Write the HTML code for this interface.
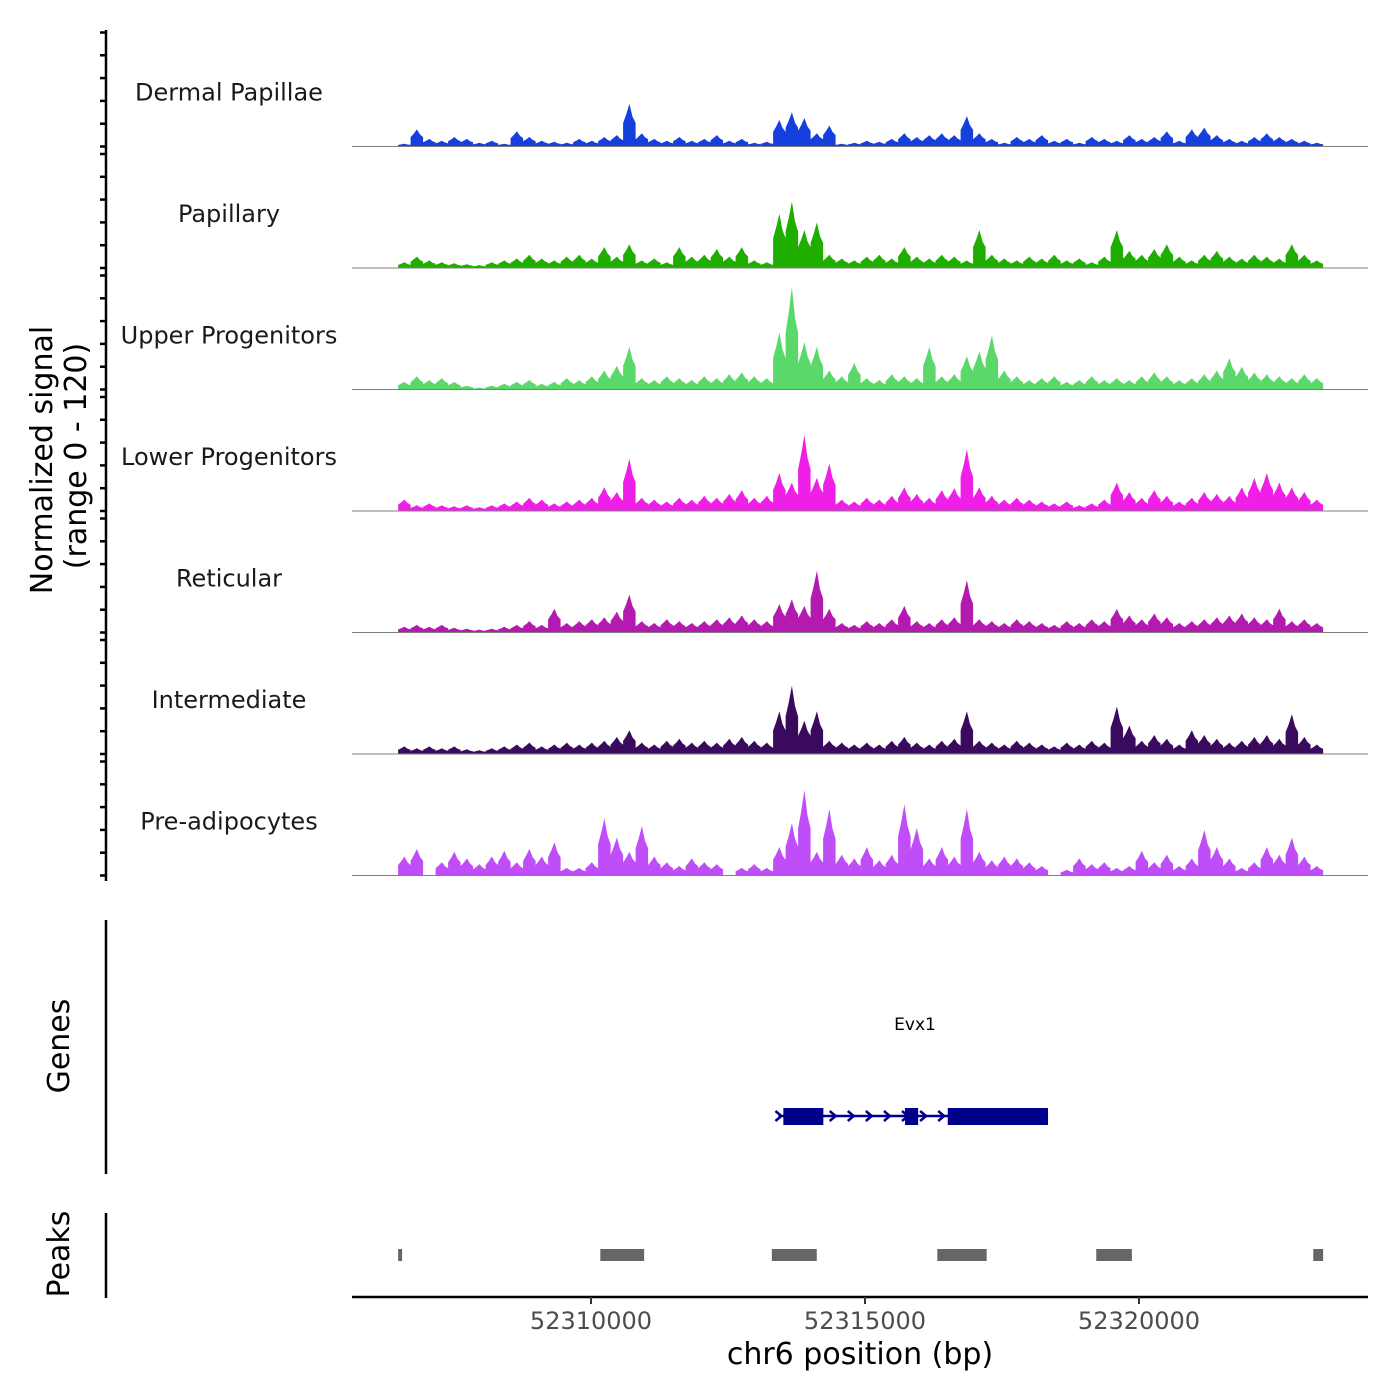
<!DOCTYPE html>
<html><head><meta charset="utf-8"><style>
html,body{margin:0;padding:0;background:#fff}
svg{display:block;font-family:"DejaVu Sans","Liberation Sans",sans-serif}
</style></head><body>
<svg id="chart" width="1400" height="1400" viewBox="0 0 1400 1400" xmlns="http://www.w3.org/2000/svg">
<g id="tracks"></g>
<g id="leftaxis"></g>
<text transform="translate(52,460) rotate(-90)" text-anchor="middle" font-size="30" fill="#000">Normalized signal</text>
<text transform="translate(86,456) rotate(-90)" text-anchor="middle" font-size="30" fill="#000">(range 0 - 120)</text>
<line x1="106" y1="920" x2="106" y2="1174" stroke="#000" stroke-width="2.5"/>
<text transform="translate(69,1046) rotate(-90)" text-anchor="middle" font-size="30" fill="#000">Genes</text>
<text x="915" y="1030" text-anchor="middle" font-size="17" fill="#000">Evx1</text>
<g id="gene"></g>
<line x1="106" y1="1213" x2="106" y2="1298" stroke="#000" stroke-width="2.5"/>
<text transform="translate(69,1254) rotate(-90)" text-anchor="middle" font-size="30" fill="#000">Peaks</text>
<g id="peaks"></g>
<line x1="352" y1="1297" x2="1368" y2="1297" stroke="#000" stroke-width="2.5"/>
<g id="xaxis"></g>
<text x="860" y="1364" text-anchor="middle" font-size="30" fill="#000">chr6 position (bp)</text>
</svg>
<script>
const trackNames=["Dermal Papillae","Papillary","Upper Progenitors","Lower Progenitors","Reticular","Intermediate","Pre-adipocytes"];
const trackColors=["#1640dd","#1fae00","#5ad96a","#ef1fe8","#b41ab0","#3a0a5e","#c04ef8"];
const regionStart=52306480, regionEnd=52323360;
const xTicks=[52310000,52315000,52320000];
const sigDP=[3,18,8,6,10,8,4,6,3,16,10,6,5,4,8,6,10,12,45,14,8,6,10,6,8,12,6,8,4,5,28,36,30,14,22,3,4,6,5,8,14,10,12,14,12,32,14,8,4,10,8,12,6,8,4,10,8,6,12,8,10,16,6,18,20,12,8,6,10,14,10,8,6,4];
const sigPap=[6,12,8,6,5,4,3,6,8,10,14,10,8,12,14,10,22,12,25,8,10,6,22,12,14,20,12,22,8,6,57,70,40,48,14,10,8,12,14,10,22,12,10,14,12,8,40,14,10,8,12,10,14,8,10,6,12,40,18,14,20,25,12,8,14,18,12,10,14,12,10,25,14,8];
const sigUP=[8,14,10,12,8,4,2,4,6,8,10,6,8,12,10,14,20,25,45,12,10,14,12,10,14,12,16,18,14,12,60,108,50,45,20,14,28,12,10,16,14,12,45,14,16,35,40,57,20,14,10,12,14,8,10,14,10,12,10,14,18,14,10,12,16,20,33,24,18,16,14,12,16,12];
const sigLP=[12,6,8,6,5,6,4,6,8,10,14,12,8,10,12,14,25,20,55,14,12,10,14,12,16,14,18,22,14,16,40,30,80,35,50,12,10,14,12,16,25,18,14,22,24,65,25,16,12,14,12,10,8,10,6,8,12,30,20,14,22,16,10,14,20,18,16,25,35,40,30,25,20,12];
const sigRet=[6,8,6,8,5,4,3,4,6,8,12,8,25,10,12,14,16,22,40,12,10,14,12,10,12,14,16,18,14,12,30,35,28,65,25,10,8,12,10,14,28,12,10,14,16,55,14,12,10,14,12,10,8,12,10,14,12,25,18,14,20,16,10,12,14,16,18,20,16,14,25,12,14,10];
const sigInt=[8,6,8,6,8,5,4,6,8,10,12,8,10,12,10,12,14,18,25,12,10,14,16,12,14,12,16,18,14,12,45,72,35,45,14,12,10,12,10,14,18,12,10,14,16,45,14,12,10,14,12,10,8,12,10,14,12,50,30,14,20,16,10,25,20,16,12,14,18,20,16,42,18,10];
const sigPre=[20,28,0,14,25,18,12,20,26,14,28,20,35,8,8,14,60,40,25,52,20,14,10,18,14,12,0,8,12,8,30,55,90,25,70,22,18,30,16,22,75,50,18,30,20,70,25,16,20,18,14,10,0,6,18,12,14,8,10,26,14,22,10,18,48,30,18,8,14,30,22,40,20,10];
const allSignals=[sigDP,sigPap,sigUP,sigLP,sigRet,sigInt,sigPre];
const peakStarts=[52306480,52310170,52313300,52316320,52319220,52323180];
const peakEnds=[52306550,52310970,52314120,52317220,52319870,52323360];
const exonStarts=[52313510,52315730,52316510];
const exonEnds=[52314240,52315970,52318340];
const geneStart=52313420, geneEnd=52318340;

const NS="http://www.w3.org/2000/svg";
function mk(t,a,p){const e=document.createElementNS(NS,t);for(const k in a)e.setAttribute(k,a[k]);p.appendChild(e);return e;}
function xPos(bp){return 591+(bp-52310000)*274/5000;}
const yMax=120, panelH=121.5, firstBase=146.5, plotH=114;
function yPos(v,base){return base-v/yMax*plotH;}
const tracks=document.getElementById('tracks');
const left=document.getElementById('leftaxis');
mk('line',{x1:106,y1:30,x2:106,y2:881,stroke:'#000','stroke-width':2.5},left);
allSignals.forEach((sig,t)=>{
  const base=firstBase+t*panelH;
  const g=mk('g',{},tracks);
  
  
  const x0=xPos(regionStart), x1=xPos(regionEnd), w=(x1-x0)/sig.length;
  let pts=[x0+','+base];
  sig.forEach((v,i)=>{
    const xa=x0+i*w;
    pts.push(xa.toFixed(1)+','+yPos(v*0.55,base).toFixed(1));
    pts.push((xa+w*0.25).toFixed(1)+','+yPos(v*0.75,base).toFixed(1));
    pts.push((xa+w*0.5).toFixed(1)+','+yPos(v,base).toFixed(1));
    pts.push((xa+w*0.75).toFixed(1)+','+yPos(v*0.7,base).toFixed(1));
    pts.push((xa+w).toFixed(1)+','+yPos(v*0.55,base).toFixed(1));
  });
  pts.push(x1+','+base);
  const poly=mk('polygon',{points:pts.join(' '),fill:trackColors[t]},g);
  
  
  const bl=mk('line',{x1:352,y1:base,x2:1368,y2:base,stroke:'#7f7f7f','stroke-width':1},g);
  
  
  const lb=mk('text',{x:229,y:base-46,'text-anchor':'middle','font-size':24,fill:'#1a1a1a'},g);
  lb.textContent=trackNames[t];
  
  
  for(let k=0;k<=5;k++){
    const y=base-k*plotH/5;
    const tk=mk('line',{x1:100,y1:y,x2:106,y2:y,stroke:'#000','stroke-width':2.5},left);
    
    
  }
});
const gg=document.getElementById('gene');
mk('line',{x1:xPos(geneStart),y1:1116,x2:xPos(geneEnd),y2:1116,stroke:'#00008b','stroke-width':2.5},gg);
for(let bp=geneStart;bp<geneEnd;bp+=330){
  const x=xPos(bp);
  const c=mk('path',{d:`M${x-3},${1111} L${x+3},${1116} L${x-3},${1121}`,stroke:'#00008b','stroke-width':2.5,fill:'none'},gg);
  
  
}
exonStarts.forEach((s,i)=>{
  const r=mk('rect',{x:xPos(s),y:1108,width:xPos(exonEnds[i])-xPos(s),height:17,fill:'#00008b'},gg);
  
  
});
const pg=document.getElementById('peaks');
peakStarts.forEach((s,i)=>{
  const r=mk('rect',{x:xPos(s),y:1249,width:Math.max(4,xPos(peakEnds[i])-xPos(s)),height:12,fill:'#666'},pg);
  
  
});
const xg=document.getElementById('xaxis');
xTicks.forEach(v=>{
  const x=xPos(v);
  const l=mk('line',{x1:x,y1:1297,x2:x,y2:1304,stroke:'#333','stroke-width':2},xg);
  
  
  const t=mk('text',{x:x,y:1329,'text-anchor':'middle','font-size':24,fill:'#4d4d4d'},xg);
  t.textContent=String(v);
  
  
});
</script>
</body></html>
